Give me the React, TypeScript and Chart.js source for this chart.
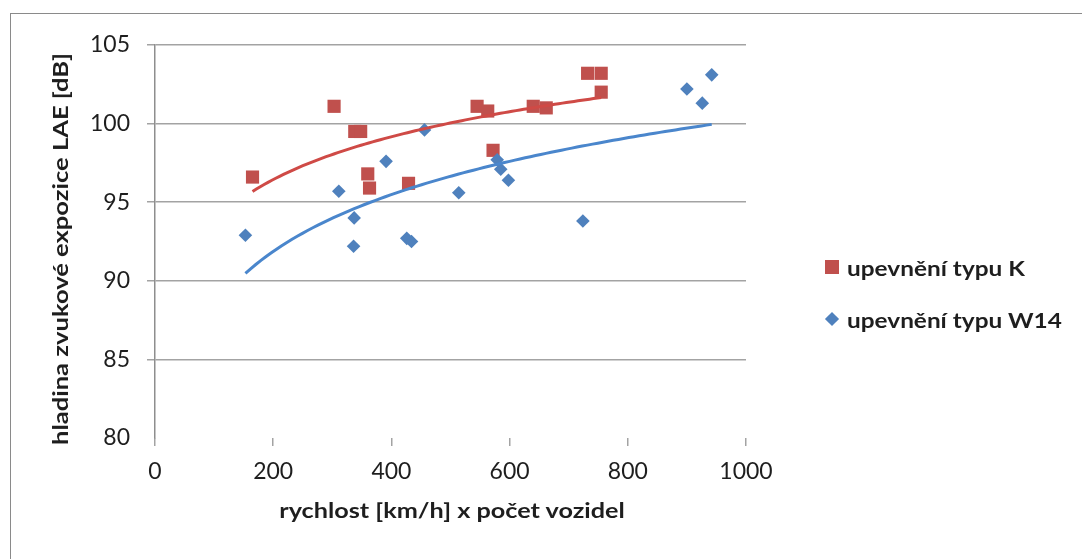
import React, { useEffect, useRef } from "react";
import { Chart, registerables } from "chart.js";

Chart.register(...registerables);

// Axis ticks
const xTicks = [0, 200, 400, 600, 800, 1000];
const yTicks = [80, 85, 90, 95, 100, 105];

// Fastening type K: speed x vehicle count vs. sound exposure level
const kSpeedCount = [165, 303, 338, 348, 360, 363, 429, 545, 563, 572, 640, 662, 732, 755, 755];
const kLevel = [96.6, 101.1, 99.5, 99.5, 96.8, 95.9, 96.2, 101.1, 100.8, 98.3, 101.1, 101.0, 103.2, 103.2, 102.0];

// Fastening type W14
const wSpeedCount = [153, 311, 337, 336, 391, 426, 434, 456, 514, 579, 585, 598, 724, 900, 926, 942];
const wLevel = [92.9, 95.7, 94.0, 92.2, 97.6, 92.7, 92.5, 99.6, 95.6, 97.7, 97.1, 96.4, 93.8, 102.2, 101.3, 103.1];

const seriesNames = ["upevnění typu K", "upevnění typu W14"];
const xTitle = "rychlost [km/h] x počet vozidel";
const yTitle = "hladina zvukové expozice LAE [dB]";

const RED = "#C0504D";
const BLUE = "#4F81BD";
const RED_LINE = "#CF4A46";
const BLUE_LINE = "#4A86CC";
const GRID = "#A3A3A3";
const TEXT = "#1E1E1E";
const FONT = "Lato, 'Open Sans', sans-serif";

// Least-squares logarithmic trendline y = a*ln(x) + b, sampled over the data range
function logTrend(xs: number[], ys: number[], steps = 90) {
  const n = xs.length;
  const lx = xs.map((v) => Math.log(v));
  const mx = lx.reduce((s, v) => s + v, 0) / n;
  const my = ys.reduce((s, v) => s + v, 0) / n;
  let sxy = 0;
  let sxx = 0;
  for (let i = 0; i < n; i++) {
    sxy += (lx[i] - mx) * (ys[i] - my);
    sxx += (lx[i] - mx) * (lx[i] - mx);
  }
  const a = sxy / sxx;
  const b = my - a * mx;
  const lo = Math.min(...xs);
  const hi = Math.max(...xs);
  const pts: { x: number; y: number }[] = [];
  for (let i = 0; i <= steps; i++) {
    const x = lo + ((hi - lo) * i) / steps;
    pts.push({ x, y: a * Math.log(x) + b });
  }
  return pts;
}

const toPoints = (xs: number[], ys: number[]) => xs.map((x, i) => ({ x, y: ys[i] }));

// Horizontal stretch factor so a label spans the wanted length
let measureCtx: CanvasRenderingContext2D | null = null;
function stretchTo(text: string, sizePx: number, length: number) {
  if (!measureCtx) measureCtx = document.createElement("canvas").getContext("2d");
  if (!measureCtx) return 1;
  measureCtx.font = `bold ${sizePx}px ${FONT}`;
  const w = measureCtx.measureText(text).width;
  return w > 0 ? length / w : 1;
}

const titleStyle: React.CSSProperties = {
  position: "absolute",
  fontFamily: FONT,
  fontWeight: "bold",
  lineHeight: "26px",
  color: TEXT,
  whiteSpace: "nowrap",
};

export default function App() {
  const canvasRef = useRef<HTMLCanvasElement | null>(null);

  useEffect(() => {
    const canvas = canvasRef.current;
    if (!canvas) return;
    const chart = new Chart(canvas, {
      type: "scatter",
      data: {
        datasets: [
          {
            label: "trend K",
            data: logTrend(kSpeedCount, kLevel),
            showLine: true,
            borderColor: RED_LINE,
            borderWidth: 3,
            pointRadius: 0,
            order: 0,
          },
          {
            label: "trend W14",
            data: logTrend(wSpeedCount, wLevel),
            showLine: true,
            borderColor: BLUE_LINE,
            borderWidth: 3,
            pointRadius: 0,
            order: 0,
          },
          {
            label: seriesNames[1],
            data: toPoints(wSpeedCount, wLevel),
            pointStyle: "rectRot",
            pointRadius: 6.8,
            backgroundColor: BLUE,
            borderWidth: 0,
            order: 1,
          },
          {
            label: seriesNames[0],
            data: toPoints(kSpeedCount, kLevel),
            pointStyle: "rect",
            pointRadius: 9.3,
            backgroundColor: RED,
            borderWidth: 0,
            order: 2,
          },
        ],
      },
      options: {
        animation: false,
        responsive: false,
        maintainAspectRatio: false,
        layout: { padding: { left: 0, top: 45, right: 336, bottom: 0 } },
        plugins: { legend: { display: false }, tooltip: { enabled: false } },
        scales: {
          x: {
            type: "linear",
            min: 0,
            max: 1000,
            afterBuildTicks: (s: any) => {
              s.ticks = xTicks.map((value) => ({ value }));
            },
            afterFit: (s: any) => {
              s.height = 121;
            },
            grid: { drawOnChartArea: false, drawTicks: true, tickLength: 8, color: GRID, lineWidth: 1.5 },
            border: { display: false },
            ticks: {
              padding: 12,
              maxRotation: 0,
              color: TEXT,
              font: { family: FONT, size: 23 },
              callback: (v: any) => String(v),
            },
          },
          y: {
            type: "linear",
            min: 80,
            max: 105,
            afterBuildTicks: (s: any) => {
              s.ticks = yTicks.map((value) => ({ value }));
            },
            afterFit: (s: any) => {
              s.width = 155;
            },
            grid: {
              drawTicks: true,
              tickLength: 8,
              lineWidth: 1.5,
              color: (ctx: any) => (ctx.tick && ctx.tick.value === 80 ? "rgba(0,0,0,0)" : GRID),
            },
            border: { display: true, color: "#8E8E8E", width: 1.5 },
            ticks: {
              padding: 17,
              color: TEXT,
              font: { family: FONT, size: 23 },
              callback: (v: any) => String(v),
            },
          },
        },
      },
    });
    return () => chart.destroy();
  }, []);

  const legendRow = (top: number, marker: React.ReactNode, text: string, length: number) => (
    <div
      style={{
        position: "absolute",
        left: 824,
        top,
        height: 30,
        display: "flex",
        alignItems: "center",
        fontFamily: FONT,
        fontWeight: "bold",
        fontSize: 21,
        color: TEXT,
        whiteSpace: "nowrap",
      }}
    >
      <div style={{ width: 16, height: 30, position: "relative", marginRight: 7 }}>{marker}</div>
      <span
        style={{
          display: "inline-block",
          transform: `scaleX(${stretchTo(text, 21, length)})`,
          transformOrigin: "left center",
        }}
      >
        {text}
      </span>
    </div>
  );

  return (
    <div
      style={{
        position: "absolute",
        left: 0,
        top: 0,
        width: 1082,
        height: 559,
        background: "#fff",
        overflow: "hidden",
      }}
    >
      <div
        style={{
          position: "absolute",
          left: 10,
          top: 13,
          width: 1100,
          height: 600,
          border: "1.5px solid #8A8A8A",
        }}
      />
      <canvas
        ref={canvasRef}
        width={1082}
        height={559}
        style={{ position: "absolute", left: 0, top: 0, width: 1082, height: 559 }}
      />
      {/* axis titles */}
      <div style={{ position: "absolute", left: 452, top: 510, width: 0, height: 0 }}>
        <div
          style={{
            ...titleStyle,
            fontSize: 21,
            left: 0,
            top: 0,
            transform: `translate(-50%, -50%) scaleX(${stretchTo(xTitle, 21, 346)})`,
          }}
        >
          {xTitle}
        </div>
      </div>
      <div style={{ position: "absolute", left: 60, top: 249, width: 0, height: 0 }}>
        <div
          style={{
            ...titleStyle,
            fontSize: 20,
            left: 0,
            top: 0,
            transform: `translate(-50%, -50%) rotate(-90deg) scaleX(${stretchTo(yTitle, 20, 392)})`,
          }}
        >
          {yTitle}
        </div>
      </div>
      {legendRow(
        252,
        <div style={{ position: "absolute", left: 1, top: 8, width: 14, height: 14, background: RED }} />,
        seriesNames[0],
        178
      )}
      {legendRow(
        304,
        <div
          style={{
            position: "absolute",
            left: 3,
            top: 10,
            width: 10,
            height: 10,
            background: BLUE,
            transform: "rotate(45deg)",
          }}
        />,
        seriesNames[1],
        215
      )}
    </div>
  );
}
